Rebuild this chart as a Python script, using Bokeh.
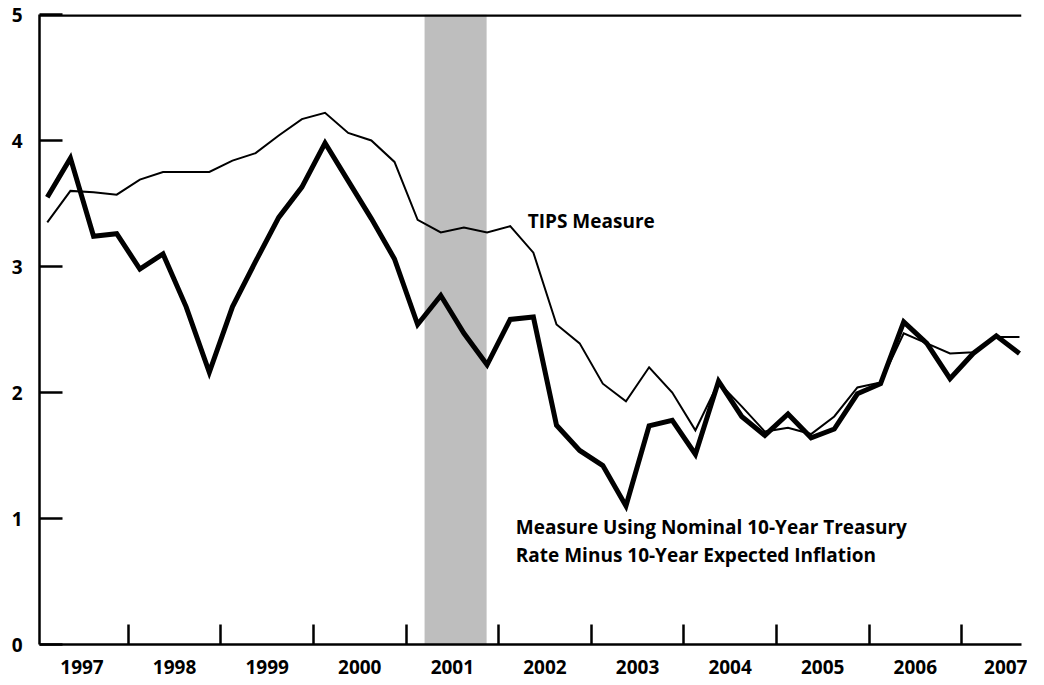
from bokeh.plotting import figure
from bokeh.models import FixedTicker, Span, BoxAnnotation, Range1d
from bokeh.core.properties import value
from bokeh.embed import file_html
from bokeh.resources import INLINE

# Quarterly data, 1997Q1 .. 2007Q3
quarters = [f"{y}Q{q}" for y in range(1997, 2008) for q in range(1, 5)][:43]
tips_measure = [3.35, 3.60, 3.59, 3.57, 3.69, 3.75, 3.75, 3.75,
                3.84, 3.90, 4.04, 4.17, 4.22, 4.06, 4.00, 3.83,
                3.37, 3.27, 3.31, 3.27, 3.32, 3.11, 2.54, 2.39,
                2.07, 1.93, 2.20, 2.00, 1.70, 2.08, 1.89, 1.69,
                1.72, 1.67, 1.81, 2.04, 2.08, 2.47, 2.39, 2.31,
                2.32, 2.44, 2.44]
nominal_measure = [3.55, 3.86, 3.24, 3.26, 2.98, 3.10, 2.68, 2.16,
                   2.68, 3.04, 3.39, 3.63, 3.98, 3.68, 3.38, 3.06,
                   2.54, 2.77, 2.47, 2.22, 2.58, 2.60, 1.74, 1.54,
                   1.42, 1.10, 1.735, 1.78, 1.51, 2.09, 1.81, 1.66,
                   1.83, 1.64, 1.71, 1.99, 2.07, 2.56, 2.39, 2.11,
                   2.31, 2.45, 2.31]
years = list(range(1997, 2008))
y_ticks = [0, 1, 2, 3, 4, 5]
recession = (2001.20, 2001.87)

# quarter midpoints in decimal years
xq = [int(s[:4]) + (int(s[5]) - 0.5) / 4 for s in quarters]

FONT = "Open Sans"
FS = "19px"

p = figure(frame_width=982, frame_height=630,
           x_range=Range1d(1997.041, 2007.647), y_range=Range1d(0, 5),
           output_backend="svg", toolbar_location=None,
           min_border_left=39, min_border_right=6, min_border_top=14, min_border_bottom=38)
p.grid.visible = False
p.outline_line_color = None
p.background_fill_color = "white"
p.border_fill_color = "white"

p.add_layout(BoxAnnotation(left=recession[0], right=recession[1], fill_color="#bebebe",
                           fill_alpha=1.0, line_color=None, level="underlay"))

p.line(xq, tips_measure, line_width=2, line_color="black", line_join="miter")
p.line(xq, nominal_measure, line_width=5, line_color="black", line_join="miter")

p.add_layout(Span(location=5, dimension="width", line_color="black", line_width=4.5))

# x axis
xa = p.xaxis[0]
xa.ticker = FixedTicker(ticks=[y + 0.5 for y in years], minor_ticks=years[1:])
xa.major_label_overrides = {y + 0.5: str(y) for y in years}
xa.major_tick_line_color = None
xa.minor_tick_in = 20
xa.minor_tick_out = 0
xa.minor_tick_line_width = 2.5
xa.minor_tick_line_color = "black"
xa.axis_line_width = 2.5
xa.major_label_text_font = FONT
xa.major_label_text_font_style = "bold"
xa.major_label_text_font_size = FS
xa.major_label_text_color = "black"
xa.major_label_standoff = 9

# y axis
ya = p.yaxis[0]
ya.ticker = FixedTicker(ticks=y_ticks)
ya.major_tick_in = 23
ya.major_tick_out = 0
ya.major_tick_line_width = 2.5
ya.minor_tick_line_color = None
ya.axis_line_width = 2.5
ya.major_label_text_font = FONT
ya.major_label_text_font_style = "bold"
ya.major_label_text_font_size = FS
ya.major_label_text_color = "black"
ya.major_label_standoff = 17

# series labels
p.text(x=[2002.314], y=[3.36], text=["TIPS Measure"], text_font=value(FONT),
       text_font_style="bold", text_font_size=FS, text_baseline="middle",
       text_align="left", text_color="black")
p.text(x=[2002.185, 2002.185], y=[0.93, 0.71],
       text=["Measure Using Nominal 10-Year Treasury", "Rate Minus 10-Year Expected Inflation"],
       text_font=value(FONT), text_font_style="bold", text_font_size=FS,
       text_baseline="middle", text_align="left", text_color="black")

open("out.html", "w").write(file_html(p, INLINE))
